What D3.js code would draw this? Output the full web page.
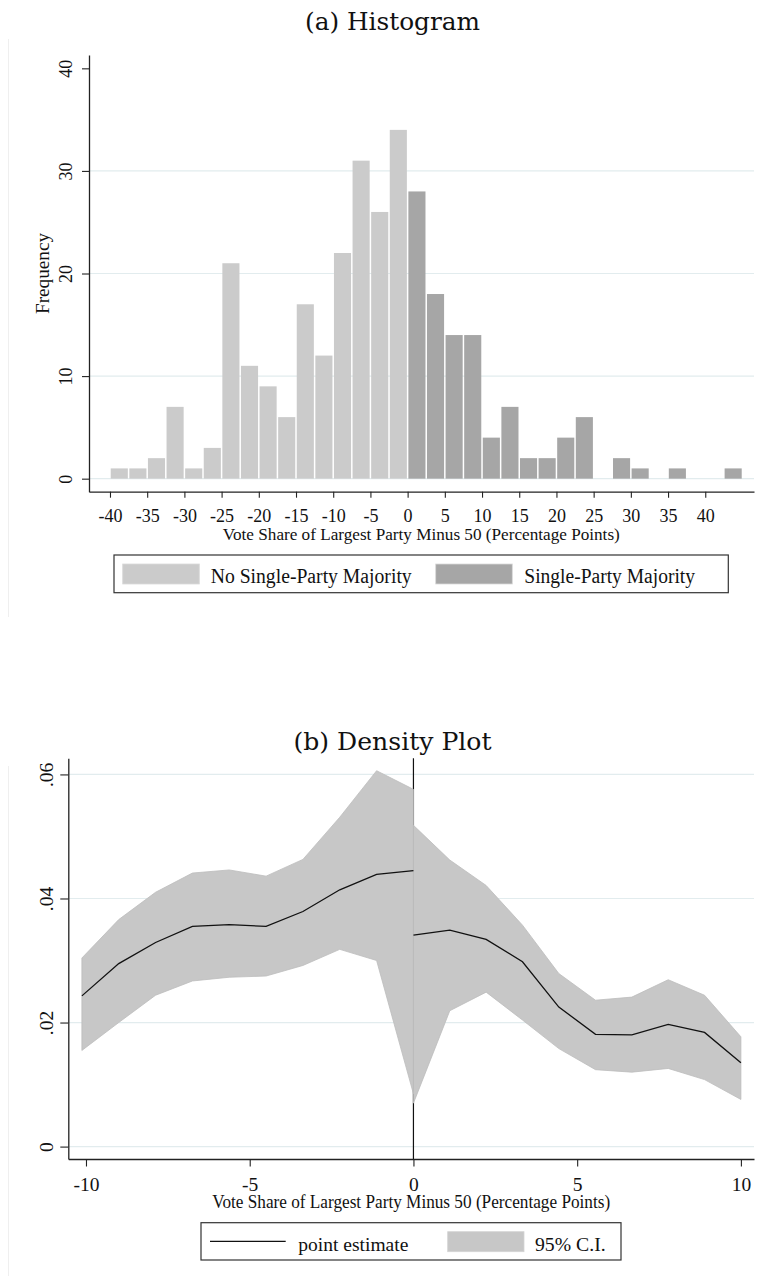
<!DOCTYPE html>
<html><head><meta charset="utf-8">
<script src="https://cdn.jsdelivr.net/npm/d3@7"></script>
<style>
html,body{margin:0;padding:0;background:#fff;}
svg{display:block;}
text{font-family:"Liberation Serif","Times New Roman",serif;fill:#111;}
</style></head><body>
<svg id="c" width="764" height="1276"></svg>
<script>
// ---------- Data: (a) Histogram ----------
const histBinStarts = [-40,-37.5,-35,-32.5,-30,-27.5,-25,-22.5,-20,-17.5,-15,-12.5,-10,-7.5,-5,-2.5,
                       0,2.5,5,7.5,10,12.5,15,17.5,20,22.5,25,27.5,30,32.5,35,37.5,40,42.5];
const histBinWidth = 2.5;
const histCounts = [1,1,2,7,1,3,21,11,9,6,17,12,22,31,26,34,
                    28,18,14,14,4,7,2,2,4,6,0,2,1,0,1,0,0,1];
const histGroups = ["No Single-Party Majority","Single-Party Majority"];
const histXTicks = [-40,-35,-30,-25,-20,-15,-10,-5,0,5,10,15,20,25,30,35,40];
const histYTicks = [0,10,20,30,40];
const histGridTicks = [0,10,20,30];

// ---------- Data: (b) Density Plot ----------
const densLeftX   = [-10.125,-9,-7.875,-6.75,-5.625,-4.5,-3.375,-2.25,-1.125,0];
const densLeftEst = [0.0243,0.0295,0.0329,0.0355,0.0358,0.0355,0.0379,0.0414,0.0439,0.0445];
const densLeftHi  = [0.0304,0.0366,0.0410,0.0441,0.0446,0.0436,0.0463,0.0531,0.0606,0.0576];
const densLeftLo  = [0.0155,0.0200,0.0244,0.0267,0.0273,0.0275,0.0292,0.0318,0.0300,0.0085];
const densRightX   = [0,1.11,2.22,3.33,4.44,5.56,6.67,7.78,8.89,10];
const densRightEst = [0.0341,0.0349,0.0334,0.0298,0.0225,0.0181,0.0180,0.0197,0.0184,0.0135];
const densRightHi  = [0.0518,0.0462,0.0421,0.0357,0.0279,0.0236,0.0241,0.0269,0.0244,0.0177];
const densRightLo  = [0.0070,0.0219,0.0249,0.0204,0.0158,0.0124,0.0120,0.0126,0.0108,0.0076];
const densXTicks = [-10,-5,0,5,10];
const densYTicks = [0,0.02,0.04,0.06];
const densYTickLabels = ["0",".02",".04",".06"];
const densCutoff = 0;

const xTitle = "Vote Share of Largest Party Minus 50 (Percentage Points)";

// ---------- Styles ----------
const LIGHT = "#cbcbcb", DARK = "#a6a6a6", GRID = "#e2ecee", AXIS = "#222", BAND = "#c7c7c7";
const fmtInt = d => String(d);   // plain hyphen-minus, as in the original

const svg = d3.select("#c");

// faint graph-region borders
svg.append("line").attr("x1",8.5).attr("x2",8.5).attr("y1",39).attr("y2",617).attr("stroke","#efefef");
svg.append("line").attr("x1",8.5).attr("x2",8.5).attr("y1",766).attr("y2",1276).attr("stroke","#efefef");

function title(txt, cx, by, len){
  svg.append("text").attr("x",cx).attr("y",by).attr("text-anchor","middle")
    .style("font-family","'DejaVu Serif',serif").style("font-size","24px")
    .attr("textLength",len).attr("lengthAdjust","spacingAndGlyphs").text(txt);
}

// ================= (a) Histogram =================
{
  const x = d3.scaleLinear().domain([-42.82, 46.55]).range([89, 754]);
  const y = d3.scaleLinear().domain([-1.27, 41.3]).range([491.7, 55]);
  title("(a) Histogram", 392.5, 30, 175);

  svg.append("g").selectAll("line").data(histGridTicks).join("line")
    .attr("x1",89).attr("x2",754).attr("y1",d=>y(d)).attr("y2",d=>y(d))
    .attr("stroke",GRID).attr("stroke-width",1.2);

  const bins = histBinStarts.map((s,i)=>({s, c: histCounts[i], g: s >= 0 ? 1 : 0}));
  svg.append("g").selectAll("rect").data(bins.filter(d=>d.c>0)).join("rect")
    .attr("x",d=>x(d.s)+0.75)
    .attr("width",d=>x(d.s+histBinWidth)-x(d.s)-1.5)
    .attr("y",d=>y(d.c))
    .attr("height",d=>y(0)-y(d.c))
    .attr("fill",d=>d.g ? DARK : LIGHT);

  const xa = svg.append("g").attr("transform","translate(0,491.7)")
    .call(d3.axisBottom(x).tickValues(histXTicks).tickSize(6).tickSizeOuter(0).tickFormat(fmtInt));
  xa.selectAll("text").attr("y",30).attr("dy",null).style("font-size","18px").attr("fill","#111");
  const ya = svg.append("g").attr("transform","translate(89,0)")
    .call(d3.axisLeft(y).tickValues(histYTicks).tickSize(7).tickSizeOuter(0).tickFormat(fmtInt));
  ya.selectAll("text").attr("x",0).attr("dy",null).attr("y",-17).attr("transform","rotate(-90)")
    .attr("text-anchor","middle").style("font-size","18px").attr("fill","#111");
  [xa, ya].forEach(a=>{
    a.select(".domain").attr("stroke",AXIS).attr("stroke-width",1.3);
    a.selectAll(".tick line").attr("stroke",AXIS).attr("stroke-width",1.1);
    a.attr("font-family",null);
  });

  svg.append("text").attr("transform","translate(48.8,273.5) rotate(-90)").attr("text-anchor","middle")
    .style("font-size","18px").attr("textLength",81).attr("lengthAdjust","spacingAndGlyphs").text("Frequency");
  svg.append("text").attr("x",421.3).attr("y",540).attr("text-anchor","middle")
    .style("font-size","17px").attr("textLength",397).attr("lengthAdjust","spacingAndGlyphs").text(xTitle);

  // legend
  svg.append("rect").attr("x",114).attr("y",555).attr("width",614.3).attr("height",37.7)
    .attr("fill","#fff").attr("stroke","#333").attr("stroke-width",1.2);
  const lg = [{x:122.7, tx:210.7, len:201, c:LIGHT},{x:435.7, tx:524.3, len:170.7, c:DARK}];
  lg.forEach((d,i)=>{
    svg.append("rect").attr("x",d.x).attr("y",564).attr("width",76.6).attr("height",20)
      .attr("fill",d.c).attr("stroke","#d9d9d9").attr("stroke-width",0.8);
    svg.append("text").attr("x",d.tx).attr("y",583.3).style("font-size","20px")
      .attr("textLength",d.len).attr("lengthAdjust","spacingAndGlyphs").text(histGroups[i]);
  });
}

// ================= (b) Density Plot =================
{
  const x = d3.scaleLinear().domain([-10.54, 10.40]).range([68.3, 754]);
  const y = d3.scaleLinear().domain([-0.0020, 0.0626]).range([1159, 758.3]);
  title("(b) Density Plot", 392.5, 749.5, 198);

  svg.append("g").selectAll("line").data(densYTicks).join("line")
    .attr("x1",68.3).attr("x2",754).attr("y1",d=>y(d)).attr("y2",d=>y(d))
    .attr("stroke",GRID).attr("stroke-width",1.2);

  // cutoff line
  svg.append("line").attr("x1",x(densCutoff)).attr("x2",x(densCutoff)).attr("y1",758.3).attr("y2",1159)
    .attr("stroke","#111").attr("stroke-width",1.2);

  const left = densLeftX.map((v,i)=>({x:v, e:densLeftEst[i], lo:densLeftLo[i], hi:densLeftHi[i]}));
  const right = densRightX.map((v,i)=>({x:v, e:densRightEst[i], lo:densRightLo[i], hi:densRightHi[i]}));
  const area = d3.area().x(d=>x(d.x)).y0(d=>y(d.lo)).y1(d=>y(d.hi));
  const line = d3.line().x(d=>x(d.x)).y(d=>y(d.e));
  [left, right].forEach(s=>{
    svg.append("path").datum(s).attr("d",area).attr("fill",BAND).attr("stroke","#bcbcbc").attr("stroke-width",0.8);
  });
  [left, right].forEach(s=>{
    svg.append("path").datum(s).attr("d",line).attr("fill","none").attr("stroke","#111").attr("stroke-width",1.3);
  });

  const xa = svg.append("g").attr("transform","translate(0,1159)")
    .call(d3.axisBottom(x).tickValues(densXTicks).tickSize(7.5).tickSizeOuter(0).tickFormat(fmtInt));
  xa.selectAll("text").attr("y",31.7).attr("dy",null).style("font-size","19.5px").attr("fill","#111");
  const ya = svg.append("g").attr("transform","translate(68.3,0)")
    .call(d3.axisLeft(y).tickValues(densYTicks).tickSize(8).tickSizeOuter(0).tickFormat((d,i)=>densYTickLabels[i]));
  ya.selectAll("text").attr("x",0).attr("dy",null).attr("y",-15.5).attr("transform","rotate(-90)")
    .attr("text-anchor","middle").style("font-size","19.5px").attr("fill","#111");
  [xa, ya].forEach(a=>{
    a.select(".domain").attr("stroke",AXIS).attr("stroke-width",1.3);
    a.selectAll(".tick line").attr("stroke",AXIS).attr("stroke-width",1.1);
    a.attr("font-family",null);
  });

  svg.append("text").attr("x",411.2).attr("y",1208.3).attr("text-anchor","middle")
    .style("font-size","18.5px").attr("textLength",398).attr("lengthAdjust","spacingAndGlyphs").text(xTitle);

  // legend
  svg.append("rect").attr("x",201).attr("y",1222.7).attr("width",420).attr("height",37.3)
    .attr("fill","#fff").attr("stroke","#333").attr("stroke-width",1.2);
  svg.append("line").attr("x1",210).attr("x2",285.7).attr("y1",1241.3).attr("y2",1241.3)
    .attr("stroke","#111").attr("stroke-width",1.3);
  svg.append("text").attr("x",298.3).attr("y",1250.7).style("font-size","19.5px")
    .attr("textLength",110).attr("lengthAdjust","spacingAndGlyphs").text("point estimate");
  svg.append("rect").attr("x",447.7).attr("y",1231.7).attr("width",76.3).attr("height",20)
    .attr("fill",BAND).attr("stroke","#d4d4d4").attr("stroke-width",0.8);
  svg.append("text").attr("x",535).attr("y",1250.7).style("font-size","19.5px")
    .attr("textLength",70.7).attr("lengthAdjust","spacingAndGlyphs").text("95% C.I.");
}
</script>
</body></html>
